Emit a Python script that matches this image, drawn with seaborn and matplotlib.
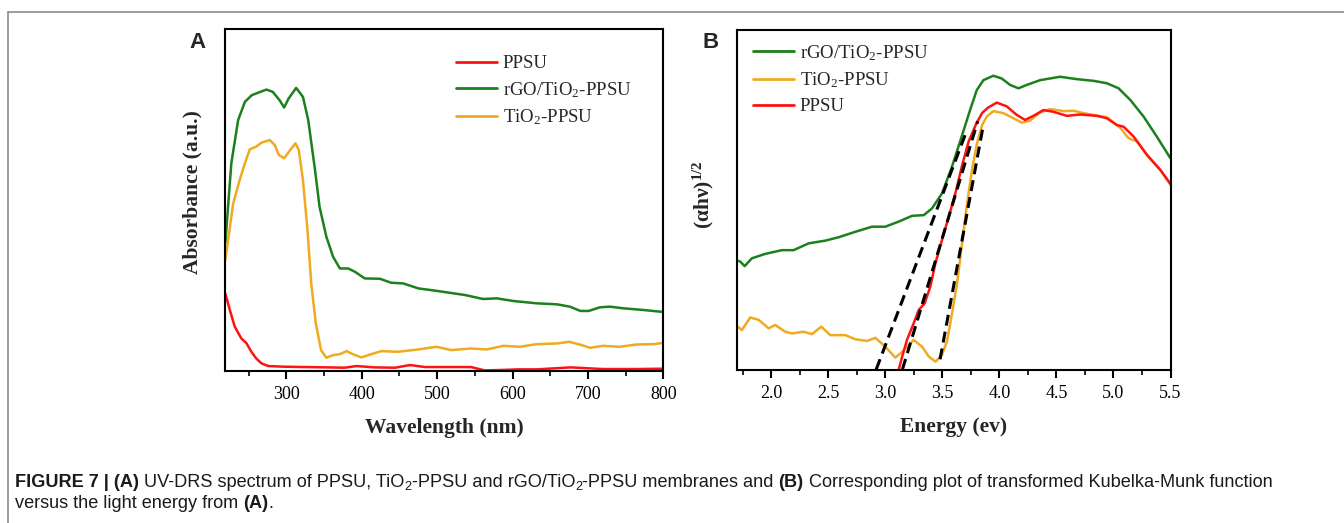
import matplotlib
matplotlib.use("Agg")
import numpy as np
import pandas as pd
import seaborn as sns
import matplotlib.pyplot as plt
from matplotlib import font_manager
from matplotlib.lines import Line2D
from matplotlib.font_manager import FontProperties

# ---------------- Panel A data: UV-DRS absorbance (a.u.) ----------------
wl_ppsu = [219, 225, 231.5, 240, 247, 253.6, 260, 267, 276, 298, 324, 355, 377, 393, 417, 444, 464, 484,
           519, 545, 563, 583, 607, 632, 677, 720, 765, 800]
abs_ppsu = [0.233, 0.183, 0.133, 0.098, 0.083, 0.057, 0.037, 0.022, 0.014, 0.012, 0.011, 0.010, 0.009,
            0.014, 0.010, 0.009, 0.017, 0.011, 0.011, 0.011, 0.001, 0.002, 0.004, 0.004, 0.010, 0.005,
            0.005, 0.006]

wl_rgo = [219, 227, 236, 245, 254, 262, 273.5, 282, 291, 297, 303, 313, 322, 329, 338, 344, 353, 362, 371,
          382, 391, 404, 424, 439, 455, 475, 501, 537, 561, 579, 601, 632, 659, 676, 690, 701, 716, 729,
          747, 773, 800]
abs_rgo = [0.384, 0.625, 0.755, 0.810, 0.830, 0.837, 0.847, 0.840, 0.815, 0.793, 0.820, 0.852, 0.825,
           0.755, 0.605, 0.494, 0.404, 0.343, 0.308, 0.308, 0.298, 0.278, 0.277, 0.265, 0.263, 0.248,
           0.240, 0.228, 0.216, 0.218, 0.210, 0.203, 0.200, 0.193, 0.180, 0.180, 0.191, 0.193, 0.188,
           0.183, 0.177]

wl_tio2 = [219, 229.5, 238, 245, 251.5, 260, 267, 278, 284.6, 290, 297, 304.5, 312, 316.5, 322, 328, 333,
           339, 346, 353, 362, 371, 380, 388, 399.5, 413, 426, 448, 475, 499, 519, 545, 566, 588, 610, 632,
           659, 675, 689, 703, 720, 742, 765, 787, 800]
abs_tio2 = [0.333, 0.504, 0.574, 0.625, 0.667, 0.675, 0.687, 0.695, 0.680, 0.650, 0.640, 0.663, 0.685,
            0.665, 0.574, 0.424, 0.263, 0.143, 0.062, 0.039, 0.047, 0.050, 0.059, 0.050, 0.040, 0.050,
            0.059, 0.057, 0.064, 0.072, 0.062, 0.067, 0.064, 0.075, 0.072, 0.080, 0.082, 0.087, 0.079,
            0.069, 0.075, 0.072, 0.079, 0.080, 0.084]

# ---------------- Panel B data: (alpha h nu)^1/2 vs energy ----------------
E_rgo = [1.69, 1.73, 1.767, 1.83, 1.947, 2.094, 2.196, 2.328, 2.474, 2.591, 2.737, 2.883, 3.0, 3.118,
         3.235, 3.337, 3.41, 3.497, 3.585, 3.655, 3.743, 3.802, 3.86, 3.947, 4.02, 4.094, 4.167, 4.24,
         4.357, 4.532, 4.679, 4.825, 4.942, 5.045, 5.147, 5.264, 5.38, 5.5]
kf_rgo = [0.322, 0.317, 0.304, 0.327, 0.340, 0.351, 0.351, 0.371, 0.379, 0.389, 0.405, 0.420, 0.420,
          0.435, 0.452, 0.454, 0.474, 0.518, 0.597, 0.670, 0.763, 0.822, 0.851, 0.864, 0.856, 0.837,
          0.827, 0.837, 0.851, 0.861, 0.854, 0.849, 0.842, 0.827, 0.793, 0.744, 0.685, 0.621]

E_ppsu = [3.118, 3.148, 3.19, 3.249, 3.293, 3.345, 3.395, 3.439, 3.497, 3.556, 3.614, 3.673, 3.73, 3.80,
          3.85, 3.90, 3.977, 4.064, 4.152, 4.225, 4.298, 4.386, 4.474, 4.591, 4.708, 4.854, 4.942, 5.03,
          5.089, 5.177, 5.294, 5.411, 5.5]
kf_ppsu = [0.0, 0.038, 0.087, 0.136, 0.175, 0.195, 0.244, 0.312, 0.381, 0.449, 0.518, 0.60, 0.67, 0.725,
           0.755, 0.770, 0.785, 0.774, 0.749, 0.734, 0.746, 0.763, 0.758, 0.746, 0.750, 0.746, 0.739,
           0.719, 0.714, 0.685, 0.631, 0.587, 0.546]

E_tio2 = [1.69, 1.743, 1.816, 1.89, 1.977, 2.035, 2.123, 2.181, 2.284, 2.357, 2.439, 2.518, 2.65, 2.737,
          2.84, 2.913, 3.0, 3.088, 3.148, 3.249, 3.323, 3.381, 3.44, 3.497, 3.541, 3.585, 3.629, 3.673,
          3.717, 3.76, 3.80, 3.85, 3.89, 3.947, 4.035, 4.123, 4.196, 4.269, 4.357, 4.445, 4.562, 4.65,
          4.737, 4.854, 4.942, 5.059, 5.133, 5.206, 5.294, 5.411, 5.5]
kf_tio2 = [0.131, 0.116, 0.153, 0.146, 0.121, 0.131, 0.111, 0.106, 0.111, 0.104, 0.126, 0.101, 0.101,
           0.089, 0.084, 0.093, 0.067, 0.035, 0.052, 0.087, 0.067, 0.038, 0.023, 0.043, 0.083, 0.165,
           0.253, 0.371, 0.489, 0.587, 0.66, 0.72, 0.744, 0.760, 0.754, 0.739, 0.726, 0.732, 0.756,
           0.766, 0.760, 0.761, 0.754, 0.747, 0.742, 0.711, 0.680, 0.671, 0.631, 0.587, 0.543]

# tangent (band-gap extrapolation) lines: [start, end]
tan_rgo_x, tan_rgo_y = [2.92, 3.70], [0.0, 0.69]
tan_ppsu_x, tan_ppsu_y = [3.15, 3.81], [0.0, 0.73]
tan_tio2_x, tan_tio2_y = [3.48, 3.86], [0.03, 0.72]

labels = ["PPSU", "rGO/TiO$_\\mathrm{2}$-PPSU", "TiO$_\\mathrm{2}$-PPSU"]
ticks_A = [300, 400, 500, 600, 700, 800]
ticks_B = [2.0, 2.5, 3.0, 3.5, 4.0, 4.5, 5.0, 5.5]

RED, GREEN, ORANGE = "#fe1212", "#1c801c", "#f0aa20"

# ---------------- style ----------------
sns.set_theme(style="ticks")
plt.rcParams.update({
    "font.family": ["Liberation Serif", "DejaVu Serif"],
    "mathtext.fontset": "custom",
    "mathtext.rm": "Liberation Serif",
    "mathtext.bf": "Liberation Serif:bold",
    "mathtext.it": "Liberation Serif:italic",
    "axes.linewidth": 1.5,
    "axes.edgecolor": "black",
    "xtick.color": "black",
    "ytick.color": "black",
    "figure.facecolor": "white",
    "axes.facecolor": "white",
})

W, H = 1344, 523
fig = plt.figure(figsize=(W / 100, H / 100), dpi=100)


def px_axes(l, t, r, b):
    return fig.add_axes([l / W, 1 - b / H, (r - l) / W, (b - t) / H])


axA = px_axes(225.3, 29.5, 663.3, 370.7)
axB = px_axes(737.0, 29.5, 1170.5, 369.5)

LW = 1.8


def draw(ax, x, y, color, label):
    sns.lineplot(x=x, y=y, ax=ax, color=color, lw=LW, label=label, legend=False,
                 estimator=None, errorbar=None, sort=False)
    ln = ax.lines[-1]
    ln.set_solid_joinstyle("round")
    ln.set_solid_capstyle("round")
    return ln


# Panel A
hA_ppsu = draw(axA, wl_ppsu, abs_ppsu, RED, labels[0])
hA_rgo = draw(axA, wl_rgo, abs_rgo, GREEN, labels[1])
hA_tio2 = draw(axA, wl_tio2, abs_tio2, ORANGE, labels[2])

# Panel B
hB_rgo = draw(axB, E_rgo, kf_rgo, GREEN, labels[1])
hB_tio2 = draw(axB, E_tio2, kf_tio2, ORANGE, labels[2])
hB_ppsu = draw(axB, E_ppsu, kf_ppsu, RED, labels[0])
for tx, ty in [(tan_rgo_x, tan_rgo_y), (tan_ppsu_x, tan_ppsu_y), (tan_tio2_x, tan_tio2_y)]:
    sns.lineplot(x=tx, y=ty, ax=axB, color="black", lw=2.2, legend=False,
                 estimator=None, errorbar=None, sort=False)
    axB.lines[-1].set_linestyle((0, (3.6, 2.0)))

axA.set_xlim(219, 800)
axA.set_ylim(0, 1.028)
axB.set_xlim(1.7, 5.5)
axB.set_ylim(0, 1.0)

axA.xaxis.set_major_locator(plt.FixedLocator(ticks_A))
axA.xaxis.set_minor_locator(plt.FixedLocator([250, 350, 450, 550, 650, 750]))
axB.xaxis.set_major_locator(plt.FixedLocator(ticks_B))
axB.xaxis.set_minor_locator(plt.FixedLocator([1.75, 2.25, 2.75, 3.25, 3.75, 4.25, 4.75, 5.25]))
axA.set_xticklabels([str(t) for t in ticks_A])
axB.set_xticklabels([f"{t:.1f}" for t in ticks_B])

for ax in (axA, axB):
    for s in ax.spines.values():
        s.set_visible(True)
        s.set_linewidth(1.5)
        s.set_color("black")
    ax.tick_params(axis="x", which="major", direction="out", length=6, width=1.5, pad=5,
                   labelsize=13, bottom=True, top=False)
    ax.tick_params(axis="x", which="minor", direction="out", length=3.5, width=1.2,
                   bottom=True, top=False)
    ax.tick_params(axis="y", which="both", left=False, right=False, labelleft=False)
    ax.grid(False)

axA.set_xlabel("Wavelength (nm)", fontsize=15.5, fontweight="bold", labelpad=11)
axB.set_xlabel("Energy (ev)", fontsize=15.5, fontweight="bold", labelpad=11)
axA.set_ylabel("Absorbance (a.u.)", fontsize=15.5, fontweight="bold")
axB.set_ylabel("(αhν)$^\\mathbf{1/2}$", fontsize=15.5, fontweight="bold")
axA.yaxis.set_label_coords((192 - 225.3) / 438.0, (370.7 - 192.5) / 341.2)
axB.yaxis.set_label_coords((703 - 737.0) / 433.5, (369.5 - 195) / 340.0)
axA.yaxis.label.set_verticalalignment("center")
axB.yaxis.label.set_verticalalignment("center")

leg_kw = dict(frameon=False, fontsize=13.5, handlelength=2.2, handletextpad=0.3, labelspacing=0.42,
              borderpad=0, borderaxespad=0, loc="upper left")
legA = axA.legend(handles=[hA_ppsu, hA_rgo, hA_tio2], labels=labels,
                  bbox_to_anchor=((456 - 225.3) / 438.0, (370.7 - 55) / 341.2), **leg_kw)
legB = axB.legend(handles=[hB_rgo, hB_tio2, hB_ppsu], labels=[labels[1], labels[2], labels[0]],
                  bbox_to_anchor=((753 - 737.0) / 433.5, (369.5 - 43) / 340.0), **leg_kw)
for lg in (legA, legB):
    for ln in lg.get_lines():
        ln.set_linewidth(2.0)

# panel letters
fig.text(197.5 / W, 1 - 43 / H, "A", family="Liberation Sans", fontweight="bold", fontsize=16,
         ha="center", va="center")
fig.text(711 / W, 1 - 42.5 / H, "B", family="Liberation Sans", fontweight="bold", fontsize=16,
         ha="center", va="center")

# frame lines
fig.add_artist(Line2D([8 / W, 1.0], [1 - 11.7 / H, 1 - 11.7 / H], color="#8c8c8c", lw=1.2))
fig.add_artist(Line2D([8 / W, 8 / W], [0.0, 1 - 11.7 / H], color="#8c8c8c", lw=1.2))

# caption (mixed bold / subscripts), placed piece by piece
names = {f.name for f in font_manager.fontManager.ttflist}
cap_fam = "Liberation Sans Narrow" if "Liberation Sans Narrow" in names else "Liberation Sans"
cap_size = 10.0

fig.canvas.draw()
rend = fig.canvas.get_renderer()


def text_w(s, fp):
    w, h, d = rend.get_text_width_height_descent(s, fp, ismath=False)
    return w


line1 = [("FIGURE 7 | (A)", "b"), (" UV-DRS spectrum of PPSU, TiO", "n"), ("2", "s"),
         ("-PPSU and rGO/TiO", "n"), ("2", "s"), ("-PPSU membranes and ", "n"), ("(B)", "b"),
         (" Corresponding plot of transformed Kubelka-Munk function", "n")]
line2 = [("versus the light energy from ", "n"), ("(A)", "b"), (".", "n")]


def fps(size):
    return {"n": FontProperties(family=cap_fam, size=size),
            "b": FontProperties(family=cap_fam, size=size, weight="bold"),
            "s": FontProperties(family=cap_fam, size=size * 0.7)}


def measure(pieces, size):
    f = fps(size)
    total = 0
    for s, k in pieces:
        total += text_w("|" + s + "|", f[k]) - text_w("||", f[k])
    return total


target = 1265.0
m = measure(line1, cap_size)
if m > 0 and abs(m - target) / target > 0.02:
    cap_size = cap_size * target / m


def place(pieces, x0, base_y, size):
    f = fps(size)
    x = x0
    for s, k in pieces:
        yy = base_y + (3.5 if k == "s" else 0.0)
        fig.text(x / W, 1 - yy / H, s, fontproperties=f[k], ha="left", va="baseline", color="#1a1a1a")
        x += text_w("|" + s + "|", f[k]) - text_w("||", f[k])


place(line1, 15.0, 487.0, cap_size)
place(line2, 15.0, 508.0, cap_size)

fig.savefig("out.png", dpi=100)
